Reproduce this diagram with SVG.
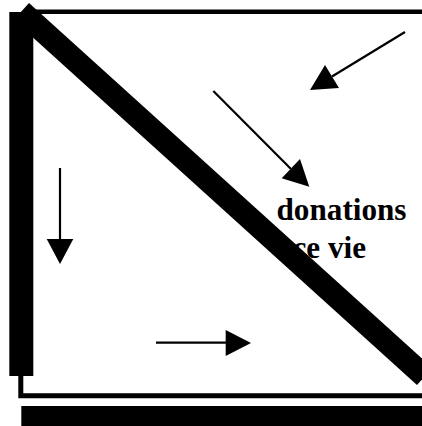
<svg xmlns="http://www.w3.org/2000/svg" width="422" height="426" viewBox="0 0 422 426">
<style>
.thin{stroke:#000;stroke-width:2.2;fill:none}
.head{fill:#000;stroke:none}
.lbl{font-family:"Liberation Serif","Times New Roman",serif;font-weight:bold;font-size:31.2px;fill:#000}
</style>
<rect width="422" height="426" fill="#fff"/>
<g id="frame">
<line x1="28" y1="11.8" x2="422" y2="11.8" stroke="#000" stroke-width="4.5"/>
<rect x="9.3" y="12" width="24" height="364" fill="#000"/>
<polyline points="20.8,376 20.8,395.8 422,395.8" fill="none" stroke="#000" stroke-width="5"/>
<rect x="21.3" y="406" width="401" height="20" fill="#000"/>
</g>
<g id="label">
<text class="lbl" x="276.5" y="219.5">donations</text>
<text class="lbl" x="292.5" y="258.3">ce vie</text>
</g>
<g id="diagonal">
<line x1="21.3" y1="11.5" x2="424.7" y2="376.5" stroke="#000" stroke-width="23"/>
</g>
<g id="connectors">
<line class="thin" x1="405" y1="32" x2="332" y2="76.5"/>
<polygon class="head" points="325,65 339,88 310,90"/>
<line class="thin" x1="213.3" y1="91" x2="291" y2="169"/>
<polygon class="head" points="281.7,178.3 300,159 309.3,186.7"/>
<line class="thin" x1="60" y1="168" x2="60" y2="240"/>
<polygon class="head" points="46.7,239 73.3,239 60,264"/>
<line class="thin" x1="156" y1="342.7" x2="226" y2="342.7"/>
<polygon class="head" points="225.7,330 225.7,356 251,343"/>
</g>
</svg>
